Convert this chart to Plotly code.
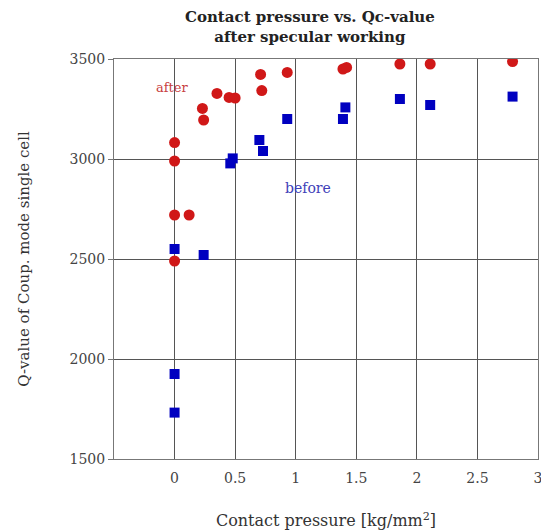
import plotly.graph_objects as go

# After specular working (red circles)
after_x = [0, 0, 0, 0.12, 0, 0.23, 0.24, 0.35, 0.45, 0.50, 0.71, 0.72, 0.93, 1.39, 1.42, 1.86, 2.11, 2.79]
after_y = [3082, 2990, 2720, 2720, 2490, 3253, 3195, 3328, 3308, 3305, 3423, 3342, 3433, 3450, 3458, 3475, 3475, 3487]

# Before (blue squares)
before_x = [0, 0.24, 0.46, 0.48, 0.70, 0.73, 0.93, 1.39, 1.41, 1.86, 2.11, 2.79, 0, 0]
before_y = [2550, 2520, 2978, 3003, 3095, 3040, 3200, 3200, 3258, 3300, 3270, 3312, 1925, 1732]

x_ticks = [0, 0.5, 1, 1.5, 2, 2.5, 3]
x_tick_labels = ["0", "0.5", "1", "1.5", "2", "2.5", "3"]
y_ticks = [1500, 2000, 2500, 3000, 3500]

title_lines = ["Contact pressure vs. Qc-value", "after specular working"]

serif = "DejaVu Serif, serif"

fig = go.Figure()
fig.add_trace(go.Scatter(x=before_x, y=before_y, mode="markers",
                         marker=dict(symbol="square", size=10, color="#0000c0"),
                         name="before", showlegend=False))
fig.add_trace(go.Scatter(x=after_x, y=after_y, mode="markers",
                         marker=dict(symbol="circle", size=11, color="#d01818"),
                         name="after", showlegend=False))

fig.add_annotation(x=-0.02, y=3360, text="after", showarrow=False,
                   font=dict(family=serif, size=13, color="#c84040"))
fig.add_annotation(x=1.10, y=2855, text="before", showarrow=False,
                   font=dict(family=serif, size=14, color="#4040b8"))
fig.add_annotation(xref="paper", yref="paper", x=0.462, y=1, xanchor="center",
                   yanchor="bottom", yshift=11, showarrow=False,
                   text="<b>" + "<br>".join(title_lines) + "</b>",
                   font=dict(family=serif, size=15, color="#222"))

fig.update_layout(
    width=541, height=524,
    margin=dict(l=106, r=11, t=51, b=73, autoexpand=False),
    paper_bgcolor="white", plot_bgcolor="white",
    font=dict(family=serif, size=14, color="#333"),
)
fig.update_xaxes(range=[-0.5, 3], tickvals=x_ticks, ticktext=x_tick_labels,
                 showgrid=True, gridcolor="#555", gridwidth=1,
                 showline=True, linecolor="#777", mirror=True, zeroline=False,
                 ticks="", ticklabelstandoff=6, automargin=False,
                 tickfont=dict(family=serif, size=14, color="#444"),
                 title=dict(text="Contact pressure [kg/mm<sup>2</sup>]",
                            font=dict(family=serif, size=16, color="#333"), standoff=30))
fig.update_yaxes(range=[1500, 3500], tickvals=y_ticks,
                 showgrid=True, gridcolor="#555", gridwidth=1,
                 showline=True, linecolor="#777", mirror=True, zeroline=False,
                 ticks="outside", ticklen=5, tickcolor="#777", automargin=False,
                 tickfont=dict(family=serif, size=14, color="#444"),
                 title=dict(text="Q-value of Coup. mode single cell",
                            font=dict(family=serif, size=15, color="#333"), standoff=36))

fig.write_html("out.html")
